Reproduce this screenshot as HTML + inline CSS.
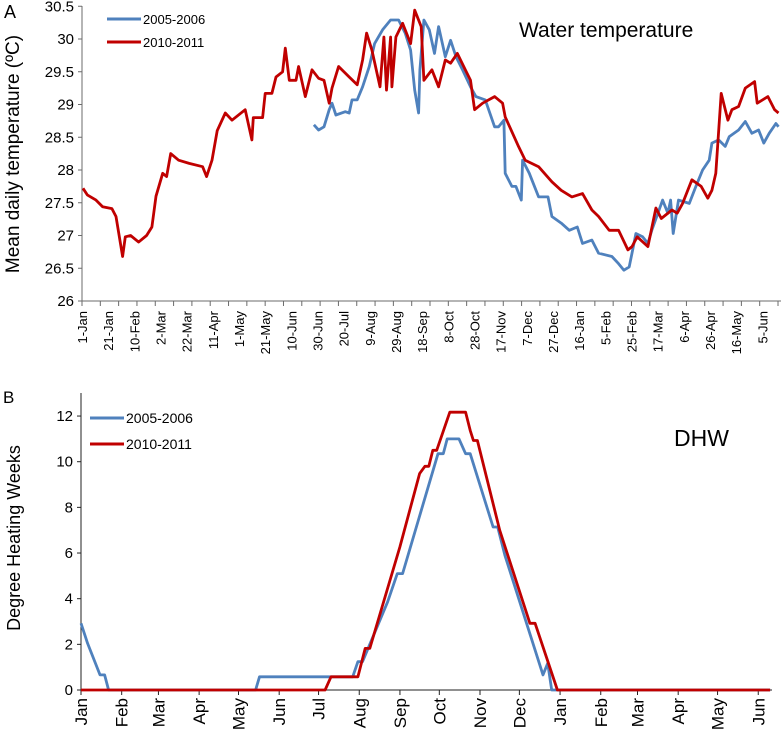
<!DOCTYPE html>
<html><head><meta charset="utf-8"><style>
body{margin:0;background:#fff;}
svg text{font-family:"Liberation Sans",sans-serif;fill:#000;}
.n{font-family:"Liberation Sans Narrow","Liberation Sans",sans-serif;}
</style></head><body>
<svg id="chart" width="781" height="735" viewBox="0 0 781 735" xmlns="http://www.w3.org/2000/svg">
<g id="top"></g>
<g id="bot"></g>
</svg>
<script>
// ---------- Panel A data ----------
const topYTicks = [26, 26.5, 27, 27.5, 28, 28.5, 29, 29.5, 30, 30.5];
const topXLabels = ["1-Jan","21-Jan","10-Feb","2-Mar","22-Mar","11-Apr","1-May","21-May","10-Jun","30-Jun","20-Jul","9-Aug","29-Aug","18-Sep","8-Oct","28-Oct","17-Nov","7-Dec","27-Dec","16-Jan","5-Feb","25-Feb","17-Mar","6-Apr","26-Apr","16-May","5-Jun"];
const redDays = [0,3.3,9.9,15,22.1,25.2,30.3,32.3,36.4,42.5,48.6,52.7,55.8,60.9,63.9,67,73.1,81.2,91.4,94.5,98.6,102.6,108.8,113.9,124,129.1,130.2,137.3,139.3,144.4,147.5,152.6,154.6,157.7,162.8,164.8,169.9,175,180.1,184.2,188.2,190.3,195.4,203.5,209.6,213.7,216.8,220.8,227,230,232,235.1,236.1,239.2,244.3,250.4,253.5,258.5,260.6,266.7,271.8,276.9,281,286.1,292.2,296.2,299.3,305.4,314.6,320.7,322.7,332.9,338,348.2,358.4,365.5,373.7,381.8,389,394.1,402.2,409.4,416.5,419.6,423.6,431.8,437.9,442,450.1,454.2,458.3,465.4,472.5,477.6,480.7,483.7,487.8,492.9,496,501.1,506.2,513.3,515.3,523.5,528.6,531.6];
const redTemp = [27.72,27.62,27.54,27.44,27.41,27.29,26.68,26.98,27.0,26.9,27.0,27.13,27.6,27.95,27.9,28.25,28.15,28.1,28.05,27.9,28.15,28.6,28.87,28.76,28.92,28.46,28.8,28.8,29.17,29.17,29.42,29.5,29.86,29.37,29.37,29.58,29.12,29.53,29.4,29.37,29.02,29.25,29.58,29.42,29.3,29.68,30.09,29.83,29.27,30.03,29.22,30.03,29.27,30.03,30.24,29.93,30.44,30.19,29.37,29.53,29.27,29.68,29.63,29.78,29.53,29.37,28.92,29.02,29.12,29.02,28.81,28.36,28.15,28.05,27.82,27.69,27.59,27.64,27.39,27.29,27.08,27.08,26.78,26.83,26.98,26.83,27.42,27.26,27.39,27.34,27.49,27.85,27.75,27.57,27.69,27.95,29.17,28.76,28.92,28.97,29.25,29.35,29.02,29.12,28.92,28.87];
const blueDays = [176.5,180.1,184.2,188.2,190.3,193.3,200.5,203.5,205.6,209.6,213.7,218.8,222.9,229,235.1,241.2,246.3,250.4,253.5,256.5,257.5,260.6,264.7,268.7,271.8,276.9,281,285.1,290.1,296.2,300.3,307.5,314.6,317.7,321.7,322.7,327.8,330.9,335,336,341.1,348.2,355.4,358.4,365.5,371.7,377.8,381.8,389,394.1,404.3,409.4,413.4,417.5,419.6,422.6,427.7,431.8,434.8,443,447.1,449.1,451.1,455.2,463.4,468.5,473.6,478.6,480.7,485.8,490.9,494,501.1,506.2,511.3,516.4,520.4,524.5,529.6,531.6];
const blueTemp = [28.69,28.61,28.66,28.92,29.02,28.84,28.89,28.87,29.07,29.07,29.27,29.58,29.93,30.14,30.29,30.29,30.09,29.83,29.22,28.87,29.53,30.29,30.14,29.78,30.19,29.73,29.98,29.73,29.53,29.27,29.12,29.07,28.66,28.66,28.76,27.95,27.75,27.75,27.54,28.15,27.95,27.59,27.59,27.29,27.19,27.08,27.13,26.88,26.93,26.73,26.68,26.57,26.47,26.52,26.73,27.03,26.98,26.88,27.08,27.54,27.34,27.54,27.03,27.54,27.49,27.75,28.0,28.15,28.41,28.46,28.36,28.51,28.61,28.74,28.56,28.61,28.41,28.56,28.71,28.66];

// ---------- Panel B data ----------
const dhwYTicks = [0,2,4,6,8,10,12];
const monthLabels = ["Jan","Feb","Mar","Apr","May","Jun","Jul","Aug","Sep","Oct","Nov","Dec","Jan","Feb","Mar","Apr","May","Jun"];
const monthStartDays = [0,31,59,90,120,151,181,212,243,273,304,334,365,396,424,455,485,516];
const dhwBlueDays = [0,5,14.5,18,21,133,136,190,207,211,214.5,233.6,241,245,272,276,279,288,293,296.5,314,317.5,323,352,355.6,358.6,525];
const dhwBlueVals = [2.92,2.04,0.66,0.66,0,0,0.58,0.58,0.58,1.24,1.24,3.86,5.1,5.1,10.35,10.35,11.0,11.0,10.35,10.35,7.14,7.14,5.9,0.66,1.17,0,0];
const dhwRedDays = [0,186,190.5,211,216.5,220,243,258,262,265,268,271,281,293,296.5,299,302,319,342,346,363,525];
const dhwRedVals = [0,0,0.58,0.58,1.82,1.82,6.27,9.48,9.8,9.8,10.5,10.5,12.17,12.17,11.37,10.93,10.93,7.0,2.92,2.92,0,0];

const NS = "http://www.w3.org/2000/svg";
function mk(parent, tag, attrs, text){
  const e = document.createElementNS(NS, tag);
  for (const k in attrs) e.setAttribute(k, attrs[k]);
  if (text !== undefined) e.textContent = text;
  parent.appendChild(e); return e;
}
const BLUE = "#4f81bd", RED = "#c00000", AX = "#6b6b6b";

// ---------- Panel A ----------
const T = document.getElementById('top');
const xA = d => 83 + 1.3083 * d;
const yA = v => 301 - (v - 26) * 65.5;
let ax = mk(T,'line',{x1:82,y1:6,x2:82,y2:301,stroke:AX,'stroke-width':1});
 
ax = mk(T,'line',{x1:82,y1:301,x2:781,y2:301,stroke:AX,'stroke-width':1});
 
topYTicks.forEach(v=>{
  mk(T,'line',{x1:78,y1:yA(v),x2:82,y2:yA(v),stroke:AX});
  const t = mk(T,'text',{x:74,y:yA(v)+5,'text-anchor':'end','font-size':15}, String(v));
   
});
for (let d=0; d<=545; d+=14){ mk(T,'line',{x1:xA(d)-1,y1:301,x2:xA(d)-1,y2:306,stroke:AX}); }
topXLabels.forEach((s,i)=>{
  const x = xA(20*i)+4;
  const t = mk(T,'text',{x:0,y:0,'text-anchor':'end','font-size':13,transform:`translate(${x},311) rotate(-90)`}, s);
   
});
function series(g, days, vals, xf, yf, col, name){
  const p = mk(g,'polyline',{points:days.map((d,i)=>xf(d).toFixed(1)+','+yf(vals[i]).toFixed(1)).join(' '),fill:'none',stroke:col,'stroke-width':2.8,'stroke-linejoin':'round'});
   
}
series(T, blueDays, blueTemp, xA, yA, BLUE, 'series-2005-2006-temperature');
series(T, redDays, redTemp, xA, yA, RED, 'series-2010-2011-temperature');
let t = mk(T,'text',{x:0,y:0,'text-anchor':'middle','font-size':19,transform:'translate(19,154) rotate(-90)'},'Mean daily temperature (ºC)');
 
t = mk(T,'text',{x:4,y:18,'font-size':18},'A');
 
t = mk(T,'text',{x:519,y:37,'font-size':21},'Water temperature');
 
let lg = mk(T,'g',{});
 
mk(lg,'line',{x1:107,y1:19,x2:141,y2:19,stroke:BLUE,'stroke-width':3});
mk(lg,'text',{x:143,y:24,'font-size':13},'2005-2006');
mk(lg,'line',{x1:107,y1:42,x2:141,y2:42,stroke:RED,'stroke-width':3});
mk(lg,'text',{x:143,y:47,'font-size':13},'2010-2011');

// ---------- Panel B ----------
const B = document.getElementById('bot');
const xB = d => 81 + 1.3125 * d;
const yB = v => 690 - v * 22.83;
ax = mk(B,'line',{x1:81,y1:393,x2:81,y2:690,stroke:'#222'});
 
ax = mk(B,'line',{x1:81,y1:690,x2:772,y2:690,stroke:'#222'});
 
dhwYTicks.forEach(v=>{
  mk(B,'line',{x1:77,y1:yB(v),x2:81,y2:yB(v),stroke:'#222'});
  const tt = mk(B,'text',{x:73,y:yB(v)+5,'text-anchor':'end','font-size':15,'class':'n'}, String(v));
   
});
monthLabels.forEach((s,i)=>{
  const x = xB(monthStartDays[i]);
  mk(B,'line',{x1:x,y1:690,x2:x,y2:695,stroke:'#222'});
  const tt = mk(B,'text',{x:0,y:0,'text-anchor':'end','font-size':17,transform:`translate(${x+6},698) rotate(-90)`}, s);
   
});
series(B, dhwBlueDays, dhwBlueVals, xB, yB, BLUE, 'series-2005-2006-dhw');
series(B, dhwRedDays, dhwRedVals, xB, yB, RED, 'series-2010-2011-dhw');
t = mk(B,'text',{x:0,y:0,'text-anchor':'middle','font-size':18,transform:'translate(20,538) rotate(-90)'},'Degree Heating Weeks');
 
t = mk(B,'text',{x:3,y:403,'font-size':17,'class':'n'},'B');
 
t = mk(B,'text',{x:674,y:446,'font-size':23,'class':'n'},'DHW');
 
lg = mk(B,'g',{});
 
mk(lg,'line',{x1:90,y1:418,x2:124,y2:418,stroke:BLUE,'stroke-width':3});
mk(lg,'text',{x:126,y:423,'font-size':14,'class':'n'},'2005-2006');
mk(lg,'line',{x1:90,y1:444,x2:124,y2:444,stroke:RED,'stroke-width':3});
mk(lg,'text',{x:126,y:449,'font-size':14,'class':'n'},'2010-2011');
</script>
</body></html>
